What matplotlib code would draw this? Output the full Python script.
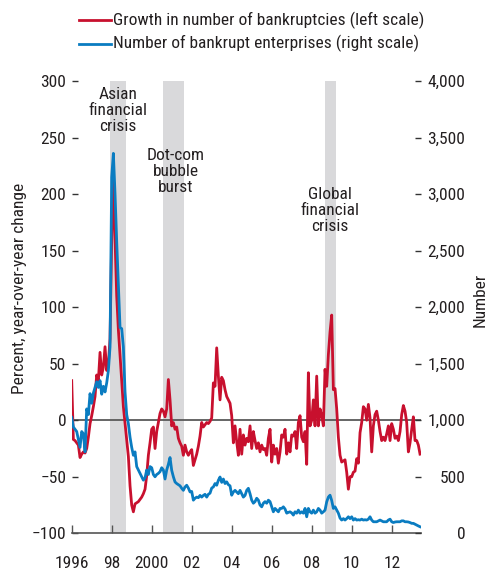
import numpy as np
import matplotlib
matplotlib.use("Agg")
import matplotlib.pyplot as plt
from matplotlib import font_manager
from matplotlib.lines import Line2D

# ---------------- data (monthly, Jan 1996 - Jun 2013) ----------------
growth_pct = [
    # 1996
    35, -17, -18, -20, -22, -33, -30, -28, -29, -25, -15, -3,
    # 1997
    4, 12, 21, 40, 35, 60, 40, 47, 65, 44, 50, 72,
    # 1998
    160, 216, 160, 110, 80, 58, 35, 12, -3, -18, -32, -58,
    # 1999
    -75, -81, -74, -73, -72, -70, -68, -65, -61, -49, -31, -20,
    # 2000
    -8, -6, -25, -10, -2, 6, 10, 8, 3, 10, 36, 18,
    # 2001
    -5, -2, -8, -6, -16, -20, -23, -31, -22, -28, -31, -28,
    # 2002
    -26, -40, -35, -30, -23, -14, -2, -6, -4, -2, -3, -1,
    # 2003
    2, 33, 30, 64, 39, 18, 38, 35, 27, 21, 18, 15,
    # 2004
    4, -20, -5, -19, -31, -8, -30, -13, -22, -16, -19, -5,
    # 2005
    -25, -10, -18, -25, -20, -28, -22, -26, -25, -31, -16, -8,
    # 2006
    -37, -22, -30, -25, -38, -28, -13, -15, -8, -30, -20, -28,
    # 2007
    -13, -14, -10, -25, -2, 4, -15, -19, -10, -39, 42, -5,
    # 2008
    0, 18, -5, 39, -5, 10, 4, -5, 45, 30, 58, 78,
    # 2009
    93, 27, 28, 10, -15, -31, -37, -36, -35, -46, -61, -50,
    # 2010
    -50, -46, -45, -34, -38, -11, -2, 12, 10, 0, 14, 2,
    # 2011
    -28, -5, 5, 8, 0, -10, -18, -15, -18, -12, -5, -18,
    # 2012
    -3, -8, -16, -14, -18, -10, 5, 13, 8, -2, -28, -20,
    # 2013
    -8, 3, -18, -18, -22, -30,
]

bankrupt_firms = [
    # 1996
    1026, 940, 920, 900, 830, 760, 900, 880, 720, 1100, 1050, 1235,
    # 1997
    1150, 1240, 1290, 1340, 1290, 1350, 1230, 1300, 1250, 1330, 1437, 1650,
    # 1998
    3150, 3360, 3000, 2580, 2200, 1820, 1810, 1650, 1250, 1050, 970, 850,
    # 1999
    760, 690, 720, 590, 560, 530, 500, 470, 490, 560, 520, 590,
    # 2000
    580, 520, 500, 520, 530, 545, 580, 560, 480, 560, 610, 670,
    # 2001
    557, 500, 454, 440, 430, 420, 398, 380, 410, 425, 400, 366,
    # 2002
    370, 293, 310, 320, 315, 335, 320, 335, 345, 320, 345, 355,
    # 2003
    400, 410, 440, 425, 469, 498, 450, 480, 440, 455, 430, 420,
    # 2004
    337, 365, 380, 365, 350, 380, 350, 320, 335, 380, 398, 350,
    # 2005
    293, 266, 280, 310, 293, 250, 234, 266, 280, 266, 293, 280,
    # 2006
    234, 190, 220, 205, 190, 220, 220, 234, 215, 178, 185, 190,
    # 2007
    180, 161, 190, 178, 205, 178, 190, 178, 220, 146, 220, 190,
    # 2008
    178, 205, 178, 190, 220, 205, 178, 190, 205, 278, 320, 337,
    # 2009
    290, 220, 234, 205, 178, 135, 117, 130, 117, 130, 146, 130,
    # 2010
    146, 117, 130, 117, 120, 117, 125, 117, 120, 117, 125, 146,
    # 2011
    117, 102, 102, 102, 110, 117, 110, 102, 102, 102, 117, 125,
    # 2012
    102, 95, 100, 102, 102, 102, 110, 110, 102, 102, 100, 95,
    # 2013
    88, 88, 80, 73, 65, 58,
]

crisis_labels = ["Asian\nfinancial\ncrisis", "Dot-com\nbubble\nburst", "Global\nfinancial\ncrisis"]
crisis_start = [1997.9, 2000.57, 2008.67]
crisis_end = [1998.7, 2001.6, 2009.2]

left_ticks = [300, 250, 200, 150, 100, 50, 0, -50, -100]
right_ticks = [4000, 3500, 3000, 2500, 2000, 1500, 1000, 500, 0]
year_ticks = [1996, 1998, 2000, 2002, 2004, 2006, 2008, 2010, 2012]
year_labels = ["1996", "98", "2000", "02", "04", "06", "08", "10", "12"]

legend_labels = ["Growth in number of bankruptcies (left scale)",
                 "Number of bankrupt enterprises (right scale)"]

# ---------------- style ----------------
avail = {f.name for f in font_manager.fontManager.ttflist}
fam = None
for cand in ["Liberation Sans Narrow", "Roboto Condensed", "Arial Narrow", "Liberation Sans"]:
    if cand in avail:
        fam = cand
        break
plt.rcParams["font.family"] = [fam, "DejaVu Sans"] if fam else ["DejaVu Sans"]
FS = 12.5
TXT = "#231F20"
RED = "#C8102E"
BLUE = "#0A7CC1"
SHADE = "#D9D9DB"
AXC = "#555555"

W, H = 489, 577
fig = plt.figure(figsize=(W / 100, H / 100), dpi=100)

x0, x1 = 71.7, 420.7
ytop, ybot = 81.0, 533.3
ax = fig.add_axes([x0 / W, 1 - ybot / H, (x1 - x0) / W, (ybot - ytop) / H])

n = len(growth_pct)
t = 1996 + np.arange(n) / 12.0

for s, e in zip(crisis_start, crisis_end):
    ax.axvspan(s, e, color=SHADE, lw=0, zorder=0)

ax.axhline(0, color="#595959", lw=1.3, zorder=1)
ax.plot(t, growth_pct, color=RED, lw=2.0, zorder=3, solid_joinstyle="round")

ax.set_xlim(1996, 2013.45)
ax.set_ylim(-100, 300)

ax2 = ax.twinx()
ax2.plot(t, bankrupt_firms, color=BLUE, lw=2.0, zorder=3, solid_joinstyle="round")
ax2.set_ylim(0, 4000)

for a in (ax, ax2):
    for sp in ["top", "left", "right", "bottom"]:
        a.spines[sp].set_visible(False)
ax.spines["bottom"].set_visible(True)
ax.spines["bottom"].set_color(AXC)
ax.spines["bottom"].set_linewidth(1.2)

ax.set_yticks(left_ticks)
ax.set_yticklabels([("\u2212" + str(abs(v))) if v < 0 else str(v) for v in left_ticks])
ax.tick_params(axis="y", direction="in", length=4, width=1.0, color="#333333",
               labelsize=FS, labelcolor=TXT, pad=4)
ax.set_xticks(year_ticks)
ax.set_xticklabels(year_labels)
ax.tick_params(axis="x", direction="in", length=6, width=1.0, color=AXC,
               labelsize=FS, labelcolor=TXT, pad=16)

ax2.set_yticks(right_ticks)
ax2.set_yticklabels([f"{v:,}" for v in right_ticks])
ax2.tick_params(axis="y", direction="in", length=4, width=1.0, color="#333333",
                labelsize=FS, labelcolor=TXT, pad=32)
for lab in ax2.get_yticklabels():
    lab.set_horizontalalignment("right")

# crisis annotations
ann_x = [1998.3, 2001.2, 2008.9]
ann_y = [295, 241, 206]
for lab, xx, yy in zip(crisis_labels, ann_x, ann_y):
    ax.text(xx, yy, lab, ha="center", va="top", fontsize=FS, color=TXT,
            linespacing=1.08, zorder=5)

# axis titles
fig.text(20 / W, 1 - 288 / H, "Percent, year-over-year change", rotation=90,
         ha="center", va="center", fontsize=FS, color=TXT)
fig.text(480 / W, 1 - 300 / H, "Number", rotation=90,
         ha="center", va="center", fontsize=FS, color=TXT)

# legend (manual)
for i, (lab, col) in enumerate(zip(legend_labels, [RED, BLUE])):
    yy = 1 - (20 + 23.5 * i) / H
    fig.add_artist(Line2D([79 / W, 111 / W], [yy, yy], color=col, lw=2.0,
                          transform=fig.transFigure))
    fig.text(113 / W, yy, lab, ha="left", va="center", fontsize=FS, color=TXT)

fig.savefig("out.png", dpi=100)
